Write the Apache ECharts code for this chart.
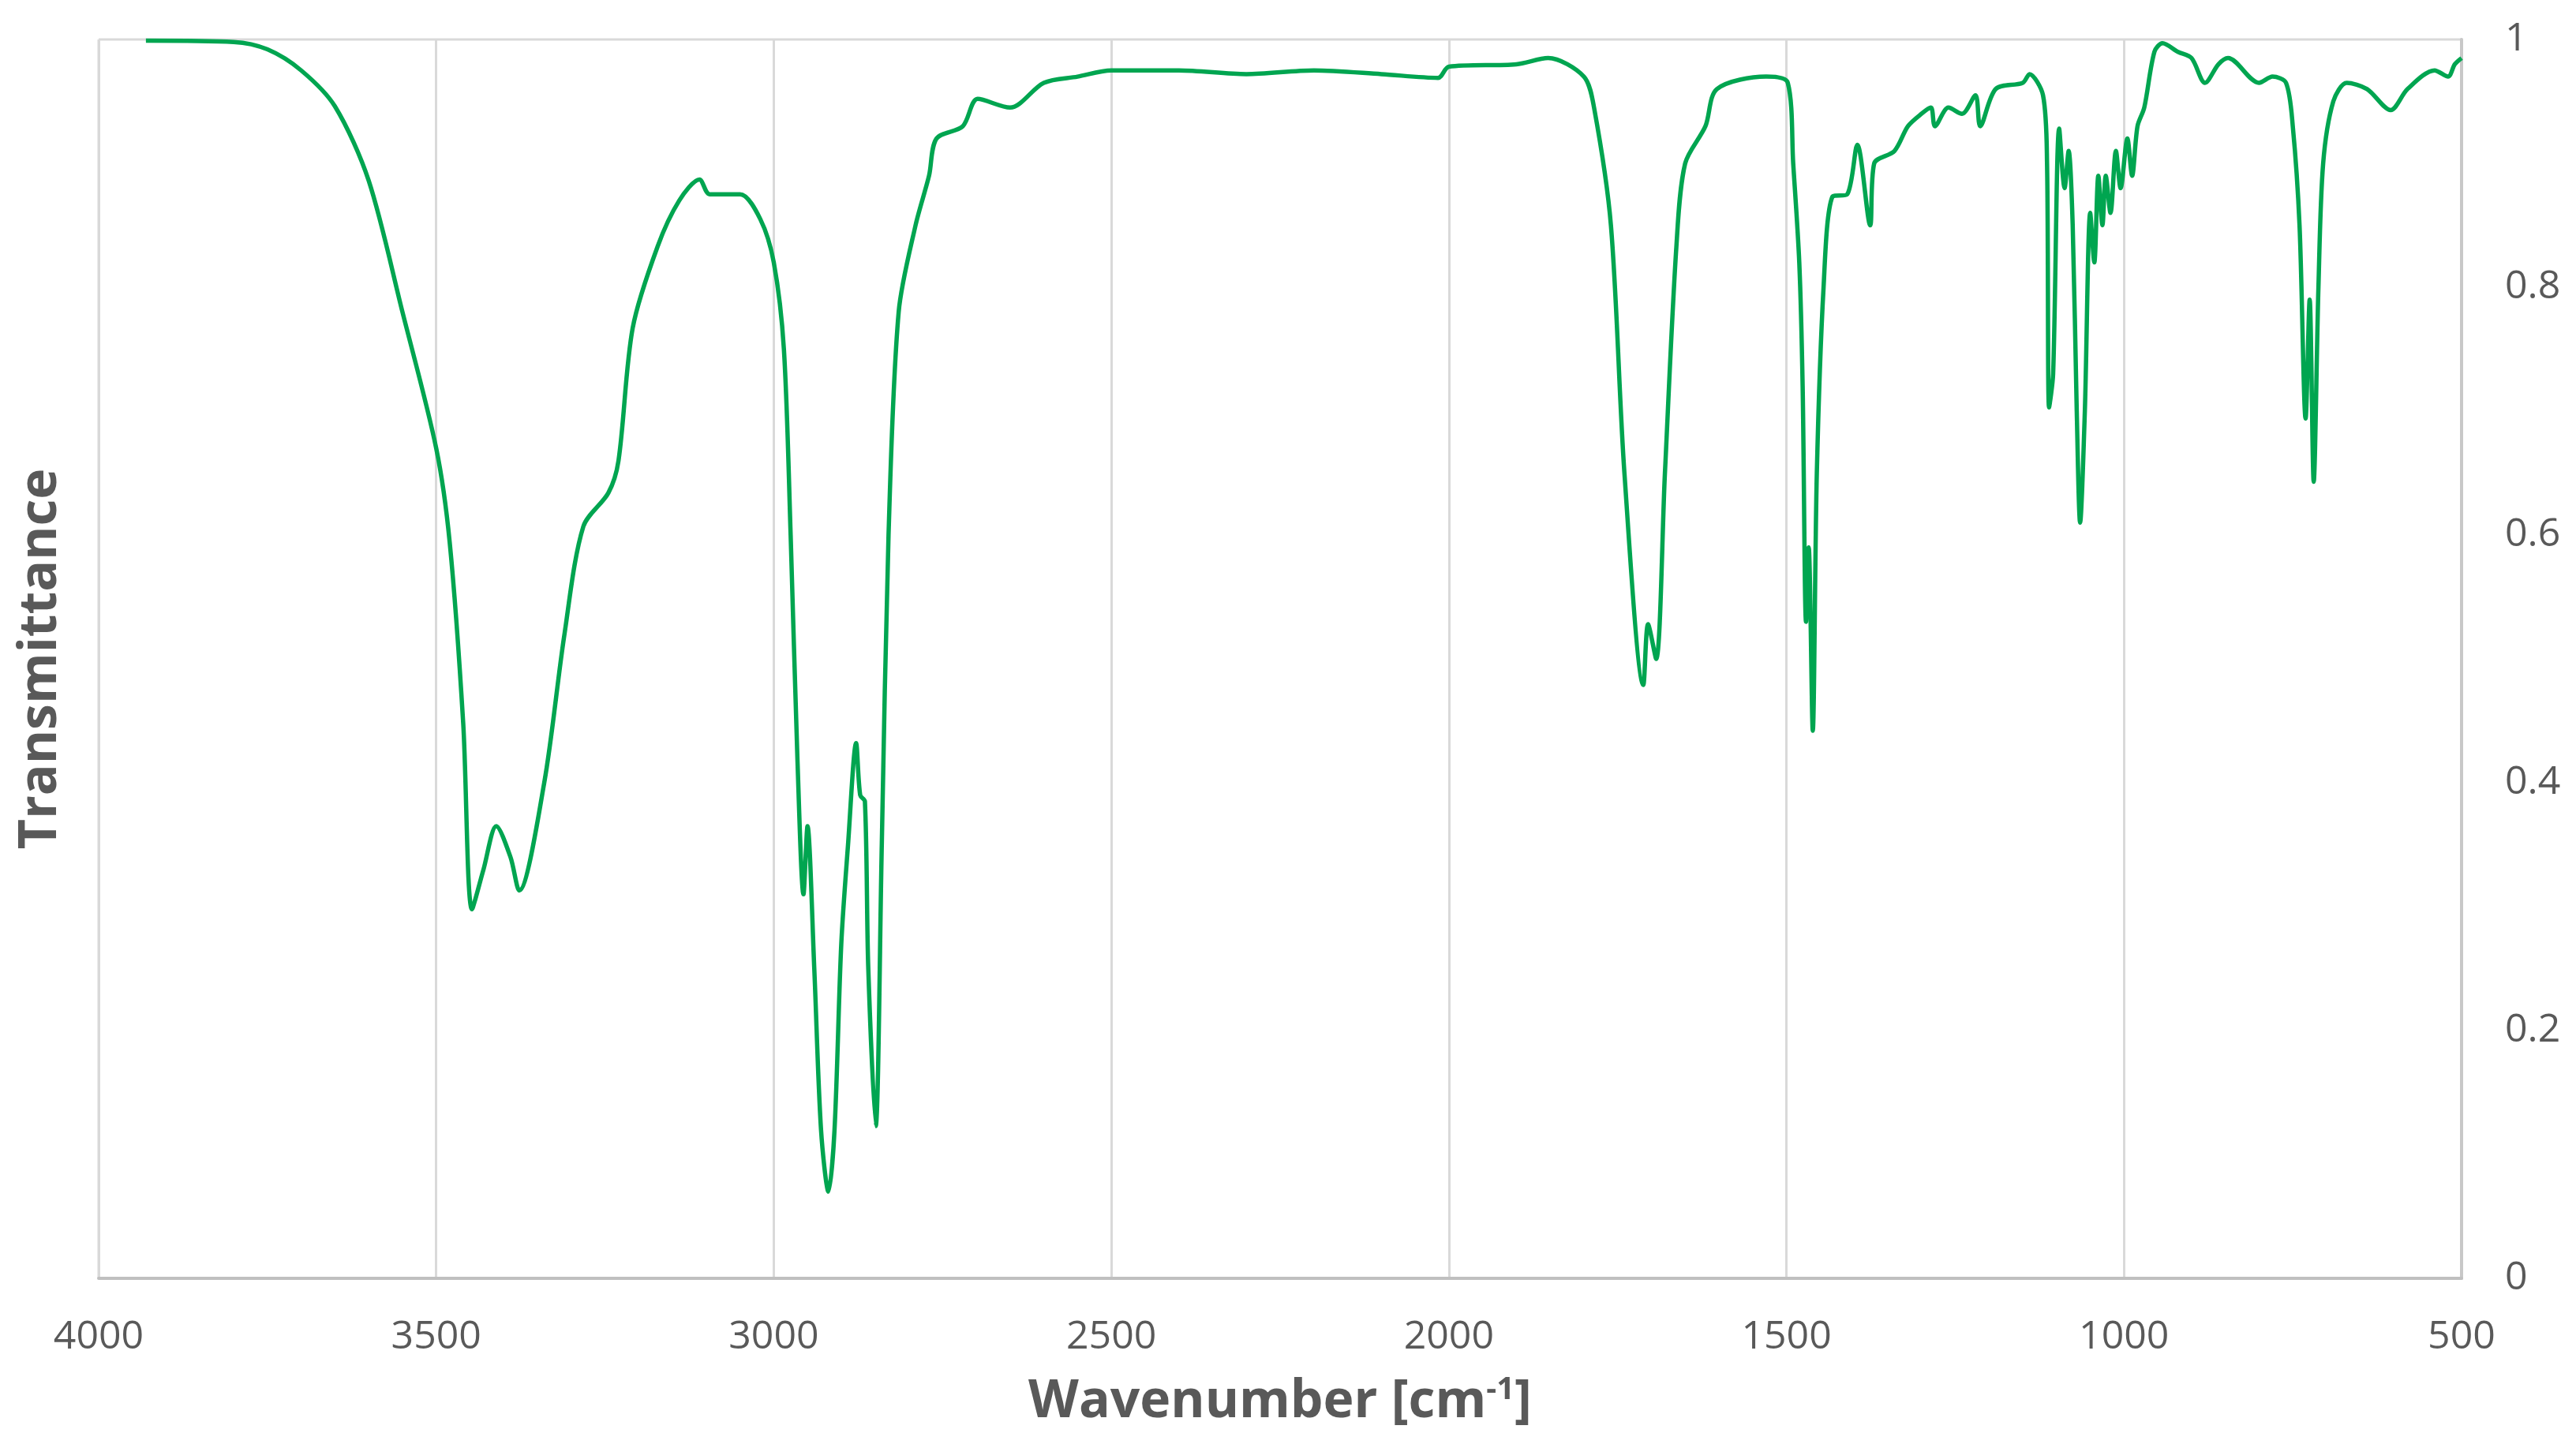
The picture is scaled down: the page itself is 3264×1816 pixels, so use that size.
<!DOCTYPE html>
<html><head><meta charset="utf-8">
<script src="https://cdn.jsdelivr.net/npm/echarts@6/dist/echarts.min.js"></script>
<style>html,body{margin:0;padding:0;background:#fff}#c{width:3264px;height:1816px}</style>
</head><body><div id="c"></div>
<script>
const wavenumbers = [3930,3800,3750,3700,3650,3600,3550,3500,3480,3460,3447,3430,3411,3390,3377,3340,3310,3282,3245,3230,3209,3172,3140,3110,3095,3050,3020,3000,2985,2975,2965,2956,2950,2940,2930,2919,2910,2900,2890,2878,2872,2865,2860,2849,2840,2830,2815,2790,2770,2759,2720,2698,2650,2600,2550,2500,2400,2300,2200,2100,2016,2000,1900,1853,1800,1785,1760,1740,1712,1705,1693,1680,1663,1650,1620,1603,1530,1498,1490,1481,1476,1471,1467,1461,1455,1445,1432,1410,1395,1376,1370,1340,1320,1300,1286,1280,1260,1240,1220,1213,1190,1150,1140,1120,1114,1111,1105,1096,1088,1082,1076,1070,1065,1058,1050,1044,1038,1032,1027,1020,1012,1005,995,988,980,970,955,943,920,900,880,860,846,800,780,760,750,740,731,725,719,712,705,690,670,640,605,580,540,520,510,500];
const transmittance = [0.999,0.998,0.992,0.975,0.946,0.886,0.78,0.67,0.594,0.448,0.298,0.33,0.365,0.34,0.313,0.40,0.52,0.607,0.634,0.66,0.767,0.833,0.87,0.887,0.875,0.875,0.855,0.82,0.75,0.60,0.42,0.31,0.365,0.25,0.12,0.07,0.12,0.27,0.35,0.432,0.39,0.385,0.25,0.123,0.35,0.60,0.78,0.85,0.89,0.92,0.93,0.952,0.945,0.965,0.97,0.975,0.975,0.972,0.975,0.972,0.969,0.978,0.98,0.985,0.97,0.945,0.85,0.65,0.479,0.528,0.50,0.65,0.833,0.90,0.93,0.96,0.97,0.965,0.90,0.82,0.72,0.53,0.59,0.442,0.65,0.80,0.873,0.875,0.915,0.85,0.90,0.91,0.93,0.94,0.945,0.93,0.945,0.94,0.955,0.93,0.96,0.965,0.972,0.955,0.90,0.703,0.73,0.928,0.88,0.91,0.85,0.70,0.61,0.70,0.86,0.82,0.89,0.85,0.89,0.86,0.91,0.88,0.92,0.89,0.93,0.945,0.99,0.997,0.99,0.985,0.965,0.98,0.985,0.965,0.97,0.965,0.93,0.85,0.694,0.79,0.643,0.80,0.90,0.95,0.965,0.96,0.943,0.96,0.975,0.97,0.98,0.985];
const xTicks = [4000,3500,3000,2500,2000,1500,1000,500];
const yTicks = [0,0.2,0.4,0.6,0.8,1];

const chart = echarts.init(document.getElementById('c'));
const font = 'Open Sans';
chart.setOption({
  animation:false,
  backgroundColor:'#fff',
  grid:{left:125,right:145,top:50,bottom:196},
  xAxis:{type:'value',min:500,max:4000,interval:500,inverse:true,
    axisLine:{lineStyle:{color:'#c0c0c0',width:4}},axisTick:{show:false},
    axisLabel:{fontFamily:font,fontSize:50,color:'#595959',margin:50,
      formatter:v=>xTicks.includes(Math.round(v))?String(Math.round(v)):''},
    splitLine:{show:true,lineStyle:{color:'#d9d9d9',width:3}},
    name:'{a|Wavenumber [cm}{b|-1}{a|]}',nameLocation:'middle',nameGap:122,
    nameTextStyle:{rich:{a:{fontFamily:font,fontSize:66,fontWeight:'bold',color:'#595959'},b:{fontFamily:font,fontSize:40,fontWeight:'bold',color:'#595959',verticalAlign:'top',padding:[0,0,30,0]}}}},
  yAxis:{type:'value',min:0,max:1,interval:0.2,position:'right',
    axisLine:{show:true,lineStyle:{color:'#c8c8c8',width:4}},axisTick:{show:false},
    axisLabel:{fontFamily:font,fontSize:50,color:'#595959',margin:55,
      formatter:v=>yTicks.includes(+v.toFixed(1))?String(+v.toFixed(1)):''},
    splitLine:{show:false}},
  graphic:[{type:'rect',shape:{x:125,y:50,width:3264-270,height:0},style:{stroke:'#d9d9d9',lineWidth:3}},
    {type:'line',shape:{x1:125,y1:50,x2:125,y2:1620},style:{stroke:'#d9d9d9',lineWidth:3}},
    {type:'text',x:52,y:(50+1620)/2,rotation:Math.PI/2,style:{text:'Transmittance',fontFamily:font,fontSize:66,fontWeight:'bold',fill:'#595959',align:'center',verticalAlign:'middle'}}],
  series:[{type:'line',data:wavenumbers.map((w,i)=>[w,transmittance[i]]),showSymbol:false,smooth:0.3,
    lineStyle:{color:'#00a550',width:5.5}}]
});
</script></body></html>
